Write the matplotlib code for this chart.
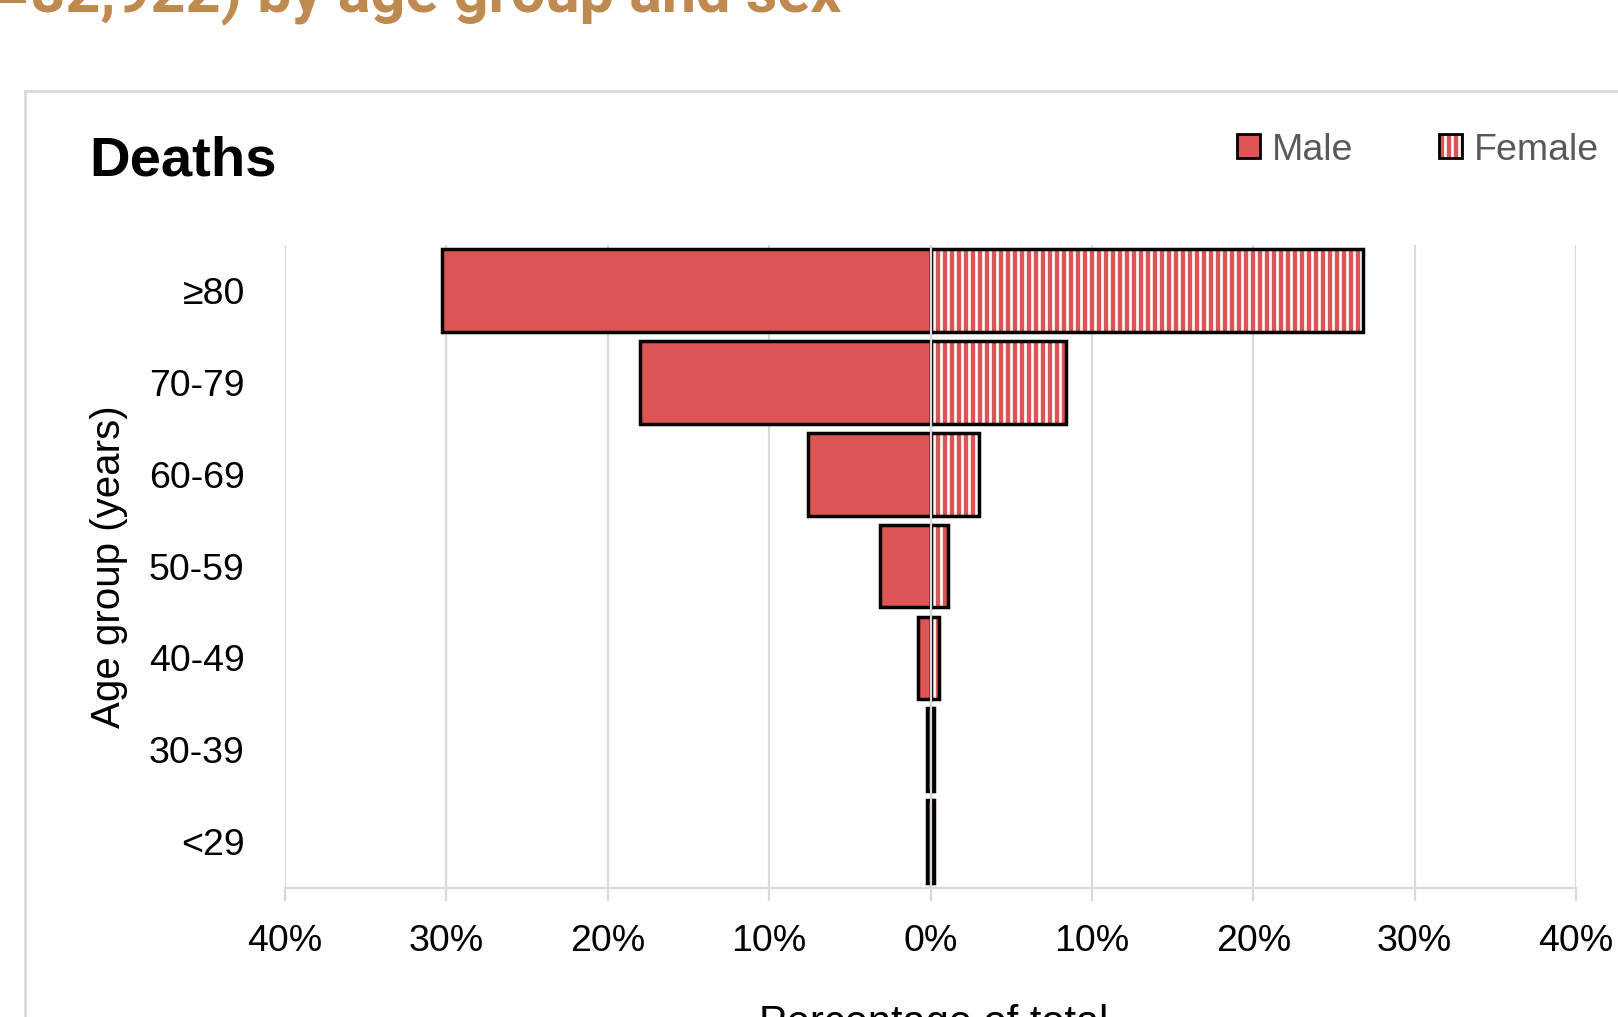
import matplotlib
matplotlib.use('Agg')
import matplotlib.pyplot as plt
from matplotlib.patches import Patch
from matplotlib.lines import Line2D

DPI = 126  # chosen so the vertical hatch spacing matches the reference


def pt(size):
    # sizes below are written as if the figure were at 100 dpi
    return size * 100 / DPI


plt.rcParams['font.family'] = ['Liberation Sans', 'DejaVu Sans']
plt.rcParams['hatch.linewidth'] = pt(1.9)

age_groups = ['<29', '30-39', '40-49', '50-59', '60-69', '70-79', '≥80']
male_pct = [0.2, 0.2, 0.8, 3.1, 7.6, 18.0, 30.3]
female_pct = [0.2, 0.2, 0.5, 1.1, 3.0, 8.4, 26.8]
x_ticks = [-40, -30, -20, -10, 0, 10, 20, 30, 40]
x_labels = ['%d%%' % abs(t) for t in x_ticks]

red = '#dc5456'
grid_c = '#d9d9d9'
W, H = 1618, 1017

fig = plt.figure(figsize=(W / DPI, H / DPI), dpi=DPI)
ax = fig.add_axes([285 / W, 1 - 887.5 / H, (1576 - 285) / W, (887.5 - 244.6) / H])

y = list(range(len(age_groups)))
ax.barh(y, [-v for v in male_pct], height=0.9, color=red, edgecolor='black', lw=pt(2.5), zorder=2)
ax.barh(y, female_pct, height=0.9, color=red, edgecolor='white', hatch='|||', lw=0, zorder=2)
ax.barh(y, female_pct, height=0.9, fill=False, edgecolor='black', lw=pt(2.5), zorder=3)
ax.axvline(0, color=grid_c, lw=pt(1.6), zorder=4)

ax.set_xlim(-40, 40)
ax.set_ylim(-0.5, 6.5)
ax.set_xticks(x_ticks)
ax.set_xticklabels(x_labels)
ax.set_yticks(y)
ax.set_yticklabels(age_groups)
ax.grid(axis='x', color=grid_c, lw=pt(1.6))
ax.set_axisbelow(True)
for s in ['top', 'right', 'left']:
    ax.spines[s].set_visible(False)
ax.spines['bottom'].set_color(grid_c)
ax.spines['bottom'].set_linewidth(pt(1.6))
ax.tick_params(axis='x', length=pt(9), width=pt(1.6), color=grid_c, labelsize=pt(27), pad=pt(17))
ax.tick_params(axis='y', length=0, labelsize=pt(27), pad=pt(29))

ax.set_ylabel('Age group (years)', fontsize=pt(29))
ax.yaxis.set_label_coords(128 / W, 1 - 567 / H, transform=fig.transFigure)
fig.text(934 / W, 1 - 1004 / H, 'Percentage of total', fontsize=pt(30), ha='center', va='top')

# chart frame (cut at right/bottom)
fig.add_artist(Line2D([25 / W, 25 / W], [0, 1 - 91 / H], transform=fig.transFigure, color=grid_c, lw=pt(2)))
fig.add_artist(Line2D([25 / W, 1], [1 - 91 / H, 1 - 91 / H], transform=fig.transFigure, color=grid_c, lw=pt(2)))

fig.text(841 / W, 1 - 12.7 / H, 'deaths (n=82,922) by age group and sex', fontsize=pt(44),
         family='Roboto', fontweight='bold', color='#be8a4f', ha='right', va='baseline')
fig.text(89 / W, 1 - 176 / H, 'Deaths', fontsize=pt(40.5), fontweight='bold', ha='left', va='baseline')

h_male = Patch(facecolor=red, edgecolor='black', lw=pt(2))
h_fem = (Patch(facecolor=red, edgecolor='white', hatch='|||', lw=0),
         Patch(fill=False, edgecolor='black', lw=pt(2)))
leg = fig.legend([h_male, h_fem], ['Male', 'Female'], loc='center left',
                 bbox_to_anchor=(1237 / W, 1 - 150 / H), ncol=2, frameon=False,
                 fontsize=pt(27), handlelength=0.62, handleheight=0.62, handletextpad=0.3,
                 columnspacing=2.3, borderpad=0, borderaxespad=0)
for t in leg.get_texts():
    t.set_color('#595959')

fig.savefig('out.png', dpi=DPI)
